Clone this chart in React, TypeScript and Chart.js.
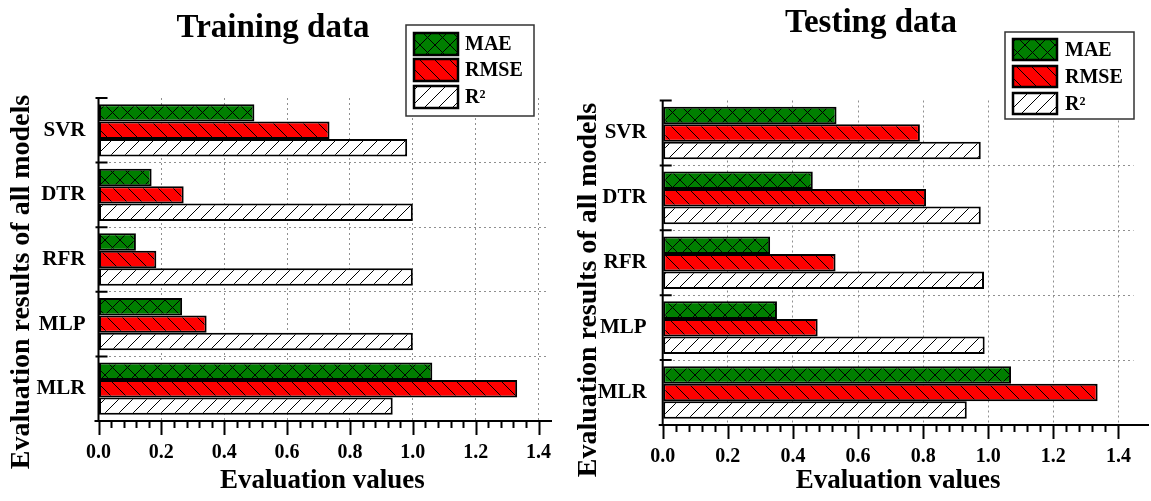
import React, { useEffect, useRef } from 'react';
import { Chart, registerables } from 'chart.js';

Chart.register(...registerables);
Chart.defaults.font.family = '"Liberation Serif", "Times New Roman", serif';

// ---- data ----
const models = ['SVR', 'DTR', 'RFR', 'MLP', 'MLR'];
const metricNames = ['MAE', 'RMSE', 'R²'];
const trainMAE = [0.496, 0.169, 0.119, 0.266, 1.062];
const trainRMSE = [0.735, 0.271, 0.184, 0.344, 1.332];
const trainR2 = [0.982, 1.0, 1.0, 1.0, 0.936];
const testMAE = [0.534, 0.461, 0.33, 0.351, 1.07];
const testRMSE = [0.79, 0.809, 0.531, 0.476, 1.336];
const testR2 = [0.977, 0.977, 0.987, 0.989, 0.934];
const xTickValues = [0, 0.2, 0.4, 0.6, 0.8, 1.0, 1.2, 1.4];
const minorStep = 0.04;
const yTitleText = 'Evaluation results of all models';
const xTitleText = 'Evaluation values';

const GRID = '#8f8f8f';
const CLEAR = 'rgba(0,0,0,0)';

type Kind = 'cross' | 'back' | 'fwd';

function makePattern(ctx: CanvasRenderingContext2D, bg: string, kind: Kind, s: number) {
  const c = document.createElement('canvas');
  c.width = s;
  c.height = s;
  const g = c.getContext('2d')!;
  g.fillStyle = bg;
  g.fillRect(0, 0, s, s);
  g.strokeStyle = '#000';
  g.lineWidth = 1;
  g.beginPath();
  if (kind === 'fwd' || kind === 'cross') {
    g.moveTo(-1, s + 1); g.lineTo(s + 1, -1);
    g.moveTo(-2, 2); g.lineTo(2, -2);
    g.moveTo(s - 2, s + 2); g.lineTo(s + 2, s - 2);
  }
  if (kind === 'back' || kind === 'cross') {
    g.moveTo(-1, -1); g.lineTo(s + 1, s + 1);
    g.moveTo(s - 2, -2); g.lineTo(s + 2, 2);
    g.moveTo(-2, s - 2); g.lineTo(2, s + 2);
  }
  g.stroke();
  return ctx.createPattern(c, 'repeat') as CanvasPattern;
}

interface PanelCfg {
  width: number;
  left: number;
  title: string;
  titleX: number;
  titleY: number;
  yTitleX: number;
  yTitleY: number;
  mae: number[];
  rmse: number[];
  r2: number[];
  padTop: number;
  padRight: number;
  yWidth: number;
  xHeight: number;
  xMax: number;
  xLabelPad: number;
  yLabelPad: number;
  axisEnd: number;
  legend: { x: number; y: number; w: number; h: number; swX: number; swW: number; swH: number; rows: number[]; textX: number };
}

const trainCfg: PanelCfg = {
  width: 575, left: 0,
  title: 'Training data', titleX: 273, titleY: 28,
  yTitleX: 22, yTitleY: 282,
  mae: trainMAE, rmse: trainRMSE, r2: trainR2,
  padTop: 98, padRight: 28.6, yWidth: 98.5, xHeight: 80, xMax: 1.425,
  xLabelPad: 20, yLabelPad: 13, axisEnd: 552,
  legend: { x: 406, y: 25, w: 128, h: 91, swX: 414, swW: 44, swH: 22, rows: [33, 59, 86], textX: 465 },
};

const testCfg: PanelCfg = {
  width: 576, left: 575,
  title: 'Testing data', titleX: 296, titleY: 23,
  yTitleX: 14, yTitleY: 290,
  mae: testMAE, rmse: testRMSE, r2: testR2,
  padTop: 100.5, padRight: 1, yWidth: 87.7, xHeight: 76, xMax: 1.4464,
  xLabelPad: 20, yLabelPad: 16, axisEnd: 574,
  legend: { x: 430, y: 32, w: 129, h: 87, swX: 438, swW: 44, swH: 21, rows: [39, 66, 93], textX: 490 },
};

function makeDecor(cfg: PanelCfg) {
  return {
    id: 'decor',
    afterDraw(chart: any) {
      const { ctx, chartArea: a, scales } = chart;
      const x = scales.x;
      const y = scales.y;
      ctx.save();
      ctx.strokeStyle = '#000';
      ctx.lineWidth = 2;
      ctx.beginPath();
      // y axis line + category boundary ticks
      ctx.moveTo(a.left, a.top);
      ctx.lineTo(a.left, a.bottom);
      for (let i = 0; i <= models.length; i++) {
        const py = y.getPixelForValue(i - 0.5);
        ctx.moveTo(a.left - 3, py);
        ctx.lineTo(a.left + 9, py);
      }
      // x axis line
      ctx.moveTo(a.left - 4, a.bottom);
      ctx.lineTo(cfg.axisEnd, a.bottom);
      const last = xTickValues[xTickValues.length - 1];
      const n = Math.round(last / minorStep);
      for (let k = 0; k <= n; k++) {
        const v = k * minorStep;
        const px = Math.round(x.getPixelForValue(v)) + 0.5;
        const major = k % 5 === 0;
        ctx.moveTo(px, a.bottom);
        ctx.lineTo(px, a.bottom + (major ? 14 : 7));
      }
      ctx.stroke();

      // titles
      ctx.fillStyle = '#000';
      ctx.textAlign = 'center';
      ctx.textBaseline = 'middle';
      ctx.font = 'bold 33px "Liberation Serif", serif';
      ctx.fillText(cfg.title, cfg.titleX, cfg.titleY);
      ctx.save();
      ctx.translate(cfg.yTitleX, cfg.yTitleY);
      ctx.rotate(-Math.PI / 2);
      ctx.font = 'bold 28px "Liberation Serif", serif';
      ctx.fillText(yTitleText, 0, 0);
      ctx.restore();

      // legend
      const L = cfg.legend;
      ctx.fillStyle = '#fff';
      ctx.fillRect(L.x, L.y, L.w, L.h);
      ctx.lineWidth = 1.5;
      ctx.strokeStyle = '#333';
      ctx.strokeRect(L.x, L.y, L.w, L.h);
      chart.data.datasets.forEach((ds: any, i: number) => {
        const ry = L.rows[i];
        ctx.fillStyle = ds.backgroundColor;
        ctx.fillRect(L.swX, ry, L.swW, L.swH);
        ctx.lineWidth = 2.5;
        ctx.strokeStyle = '#000';
        ctx.strokeRect(L.swX, ry, L.swW, L.swH);
        ctx.fillStyle = '#000';
        ctx.textAlign = 'left';
        ctx.textBaseline = 'middle';
        ctx.font = 'bold 20px "Liberation Serif", serif';
        ctx.fillText(ds.label, L.textX, ry + L.swH / 2 + 1);
      });
      ctx.restore();
    },
  };
}

function Panel({ cfg }: { cfg: PanelCfg }) {
  const ref = useRef<HTMLCanvasElement>(null);
  useEffect(() => {
    const canvas = ref.current!;
    const c2d = canvas.getContext('2d')!;
    const patMAE = makePattern(c2d, '#007f00', 'cross', 15);
    const patRMSE = makePattern(c2d, '#ff0000', 'back', 15);
    const patR2 = makePattern(c2d, '#ffffff', 'fwd', 14);
    const common = { borderColor: '#000', borderWidth: 2, borderSkipped: false, categoryPercentage: 0.81, barPercentage: 1 };
    const chart = new Chart(canvas, {
      type: 'bar',
      data: {
        labels: models,
        datasets: [
          { label: metricNames[0], data: cfg.mae, backgroundColor: patMAE, ...common },
          { label: metricNames[1], data: cfg.rmse, backgroundColor: patRMSE, ...common },
          { label: metricNames[2], data: cfg.r2, backgroundColor: patR2, ...common },
        ] as any,
      },
      options: {
        indexAxis: 'y',
        responsive: false,
        animation: false,
        layout: { padding: { top: cfg.padTop, right: cfg.padRight, left: 0, bottom: 0 } },
        plugins: { legend: { display: false }, tooltip: { enabled: false }, title: { display: false } },
        scales: {
          x: {
            type: 'linear',
            position: 'bottom',
            min: 0,
            max: cfg.xMax,
            afterBuildTicks: (s: any) => { s.ticks = xTickValues.map((v) => ({ value: v })); },
            afterFit: (s: any) => { s.height = cfg.xHeight; },
            ticks: {
              color: '#000',
              font: { size: 20, weight: 'bold' },
              padding: cfg.xLabelPad,
              maxRotation: 0,
              autoSkip: false,
              callback: (v: any) => Number(v).toFixed(1),
            },
            grid: {
              drawTicks: false,
              lineWidth: 1,
              color: (c: any) => (c.tick && Math.abs(c.tick.value) < 1e-9 ? CLEAR : GRID),
            },
            border: { display: false, dash: [2, 3] },
            title: { display: true, text: xTitleText, color: '#000', font: { size: 27, weight: 'bold' }, padding: { top: 0, bottom: 4 } },
          },
          y: {
            type: 'category',
            position: 'left',
            afterFit: (s: any) => { s.width = cfg.yWidth; },
            ticks: { color: '#000', font: { size: 21, weight: 'bold' }, padding: cfg.yLabelPad },
            grid: {
              offset: true,
              drawTicks: false,
              lineWidth: 1,
              color: (c: any) => (c.index === 0 || c.index >= models.length ? CLEAR : GRID),
            },
            border: { display: false, dash: [2, 3] },
          },
        },
      } as any,
      plugins: [makeDecor(cfg)],
    });
    return () => chart.destroy();
  }, [cfg]);
  return (
    <canvas
      ref={ref}
      width={cfg.width}
      height={501}
      style={{ position: 'absolute', left: cfg.left, top: 0, width: cfg.width, height: 501 }}
    />
  );
}

export default function App() {
  return (
    <div style={{ position: 'fixed', left: 0, top: 0, width: 1151, height: 501, background: '#fff', overflow: 'hidden' }}>
      <Panel cfg={trainCfg} />
      <Panel cfg={testCfg} />
    </div>
  );
}
